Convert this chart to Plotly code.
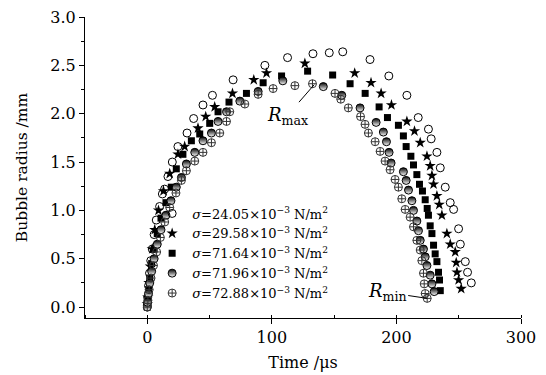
import plotly.graph_objects as go

# ---- data (time in microseconds, radius in mm) ----
labels = [
    "<i>σ</i>=24.05×10<sup>−3</sup> N/m<sup>2</sup>",
    "<i>σ</i>=29.58×10<sup>−3</sup> N/m<sup>2</sup>",
    "<i>σ</i>=71.64×10<sup>−3</sup> N/m<sup>2</sup>",
    "<i>σ</i>=71.96×10<sup>−3</sup> N/m<sup>2</sup>",
    "<i>σ</i>=72.88×10<sup>−3</sup> N/m<sup>2</sup>",
]

t1 = [0, 0.3, 1, 1.8, 2.8, 4, 5.5, 7.2, 9.9, 12.1, 13.9, 16.6, 20.1, 24.6, 31.9, 37.2, 44.7, 52.3, 68.9,
      94.4, 112.6, 133, 146.1, 156.9, 178.8, 193.9, 208.4, 217.5, 225.7, 227.9, 232.5, 235.2, 239.2,
      243.2, 245.9, 249.9, 251.3, 255.3, 257.1, 260.1]
r1 = [0.02, 0.1, 0.22, 0.35, 0.48, 0.6, 0.75, 0.9, 1.04, 1.17, 1.22, 1.35, 1.5, 1.66, 1.8, 1.95, 2.09, 2.19, 2.35,
      2.5, 2.58, 2.62, 2.63, 2.64, 2.56, 2.39, 2.19, 1.96, 1.84, 1.74, 1.6, 1.44, 1.24,
      1.08, 1.01, 0.81, 0.65, 0.47, 0.36, 0.25]

t2 = [0, 0.4, 1.3, 2.5, 4, 6, 9, 13, 18, 24.6, 30, 40.7, 46.9, 54.1, 68.4, 85.5, 95.7, 126.5, 166.5, 179.6,
      187.7, 196, 208.4, 214.5, 219.1, 224.5, 227.1, 228.5, 229.8, 232.5, 234.4, 236.5, 240.5, 243.2,
      247.2, 248, 248.6, 249.9, 252]
r2 = [0.03, 0.1, 0.25, 0.42, 0.6, 0.8, 1.0, 1.2, 1.38, 1.58, 1.66, 1.85, 1.97, 2.07, 2.21, 2.35, 2.42, 2.52, 2.42, 2.32,
      2.21, 2.09, 1.92, 1.82, 1.7, 1.56, 1.46, 1.36, 1.27, 1.15, 1.06, 0.95, 0.76, 0.65,
      0.57, 0.46, 0.36, 0.28, 0.19]

t3 = [0, 0.3, 1, 2, 3.5, 5.5, 8, 11, 15, 19.3, 23.3, 28.6, 35.4, 42.1, 50.1, 56.8, 65.6, 79.6, 93, 107.8,
      128.7, 148.8, 162.8, 174.9, 186.1, 192.8, 201.6, 205.6, 207.8, 211.6, 213.7, 216.4, 218.5, 220.9,
      223.1, 224.7, 225.7, 227.1, 228.5, 229.8, 231.1, 232.5, 233.8, 234.6, 235.2]
r3 = [0.0, 0.07, 0.18, 0.3, 0.45, 0.6, 0.76, 0.92, 1.08, 1.24, 1.43, 1.58, 1.72, 1.79, 1.9, 2.02, 2.12, 2.21, 2.32, 2.39,
      2.44, 2.4, 2.31, 2.21, 2.07, 1.96, 1.88, 1.77, 1.66, 1.56, 1.47, 1.37, 1.27, 1.2,
      1.11, 1.02, 0.95, 0.84, 0.76, 0.64, 0.55, 0.47, 0.36, 0.28, 0.17]

t4 = [0, 0.3, 1, 2, 3.5, 5.5, 8, 11, 15, 19, 23.3, 27.4, 31.4, 38.1, 44.7, 51.5, 56.8, 63.6, 74.3, 89, 108.8,
      141.3, 156.1, 170.8, 183.7, 189.5, 192, 194.1, 195.7, 205.6, 207.8, 209.7, 212.4, 213.7, 216.4,
      217.7, 219.1, 221.7, 223.1, 224.5, 227.1, 228.5, 230.3]
r4 = [0.0, 0.05, 0.14, 0.25, 0.37, 0.5, 0.65, 0.8, 0.95, 1.1, 1.24, 1.34, 1.48, 1.6, 1.72, 1.8, 1.92, 2.02, 2.13, 2.23, 2.34,
      2.28, 2.19, 2.06, 1.91, 1.81, 1.71, 1.6, 1.49, 1.4, 1.31, 1.21, 1.1, 1.0, 0.89,
      0.79, 0.69, 0.6, 0.52, 0.43, 0.33, 0.24, 0.16]

t5 = [0, 0.5, 1.5, 3, 5, 7.5, 10.5, 14, 18, 23, 27.4, 31.4, 38.1, 44.7, 51.5, 58.2, 63.6, 66.2, 78.3, 89, 101,
      118.5, 132.6, 150.7, 155.3, 161.4, 171.2, 174.8, 177.5, 182.9, 186.9, 190.9, 194.9, 198.9, 201.6,
      204.3, 207, 211, 213.7, 216.4, 219.1, 220.4, 221.7, 222.3, 223.1, 224.7]
r5 = [0.0, 0.07, 0.18, 0.3, 0.43, 0.57, 0.72, 0.88, 1.03, 1.18, 1.31, 1.41, 1.51, 1.6, 1.7, 1.8, 1.92, 2.02, 2.1, 2.2, 2.26,
      2.29, 2.31, 2.21, 2.15, 2.06, 1.97, 1.89, 1.8, 1.71, 1.61, 1.51, 1.42, 1.32, 1.24,
      1.12, 1.01, 0.93, 0.83, 0.69, 0.59, 0.48, 0.35, 0.24, 0.14, 0.09]

x_ticks = [0, 100, 200, 300]
y_ticks = [0.0, 0.5, 1.0, 1.5, 2.0, 2.5, 3.0]
r_max_point = (134, 2.30)
r_min_point = (224.7, 0.09)

FONT = "DejaVu Serif"

fig = go.Figure()
fig.add_trace(go.Scatter(x=t1, y=r1, mode="markers", name=labels[0],
                         marker=dict(symbol="circle-open", size=8, color="black", line=dict(width=1, color="black"))))
fig.add_trace(go.Scatter(x=t2, y=r2, mode="markers", name=labels[1],
                         marker=dict(symbol="star", size=8.5, color="black", line=dict(width=0))))
fig.add_trace(go.Scatter(x=t3, y=r3, mode="markers", name=labels[2],
                         marker=dict(symbol="square", size=7, color="black", line=dict(width=0))))
fig.add_trace(go.Scatter(x=t4, y=r4, mode="markers", name=labels[3],
                         marker=dict(symbol="circle", size=8, color="black",
                                     gradient=dict(type="vertical", color="white"),
                                     line=dict(width=1, color="black"))))
fig.add_trace(go.Scatter(x=t5, y=r5, mode="markers", name=labels[4],
                         marker=dict(symbol="circle-cross-open", size=8, color="#333333",
                                     line=dict(width=1, color="#333333"))))

fig.add_annotation(x=r_max_point[0], y=r_max_point[1], text="<i>R</i><sub>max</sub>",
                   showarrow=True, arrowhead=0, arrowwidth=1, arrowcolor="black",
                   ax=-27, ay=31, font=dict(family=FONT, size=18, color="black"))
fig.add_annotation(x=r_min_point[0], y=r_min_point[1], text="<i>R</i><sub>min</sub>",
                   showarrow=True, arrowhead=0, arrowwidth=1, arrowcolor="black",
                   ax=-40, ay=-6, font=dict(family=FONT, size=18, color="black"))

fig.update_layout(
    width=538, height=367,
    margin=dict(l=77, r=25, t=9, b=57),
    paper_bgcolor="white", plot_bgcolor="white",
    font=dict(family=FONT, size=16, color="black"),
    showlegend=True,
    legend=dict(x=0.154, y=0.397, xanchor="left", yanchor="top", bgcolor="rgba(0,0,0,0)",
                font=dict(family=FONT, size=13, color="black"), itemwidth=30),
    xaxis=dict(range=[-50, 300], tickvals=x_ticks, showline=True, linecolor="black", linewidth=1,
               ticks="outside", ticklen=5, tickcolor="black", showgrid=False, zeroline=False,
               automargin=False, ticklabeloverflow="allow",
               minor=dict(dtick=50, ticks="inside", ticklen=3, tickcolor="black", showgrid=False),
               title=dict(text="Time /μs", standoff=10, font=dict(family=FONT, size=16))),
    yaxis=dict(range=[-0.113, 3.0], tickvals=y_ticks, tickformat=".1f", showline=True, linecolor="black",
               linewidth=1, ticks="outside", ticklen=5, tickcolor="black", showgrid=False, zeroline=False,
               automargin=False, ticklabeloverflow="allow",
               minor=dict(dtick=0.25, ticks="outside", ticklen=3, tickcolor="black", showgrid=False),
               title=dict(text="Bubble radius /mm", standoff=18, font=dict(family=FONT, size=15.5))),
)

fig.write_html("out.html")
